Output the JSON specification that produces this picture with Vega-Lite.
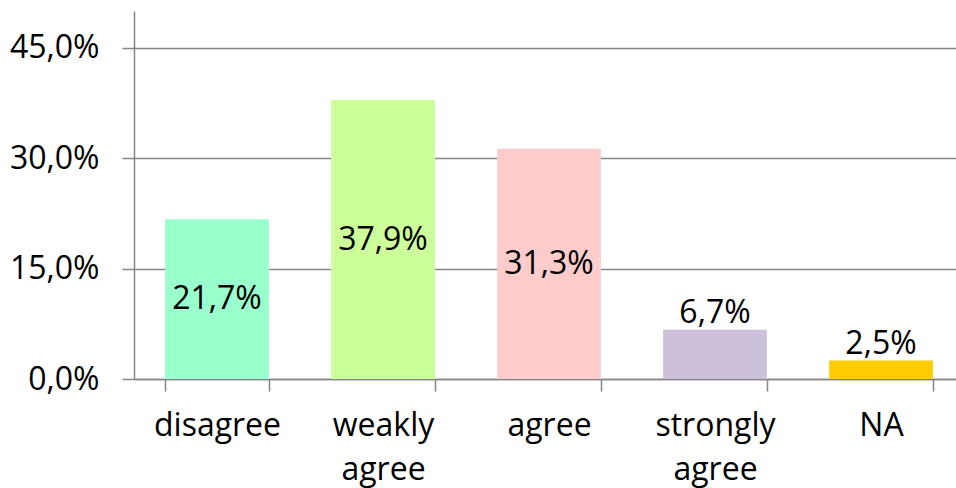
{
  "$schema": "https://vega.github.io/schema/vega-lite/v6.json",
  "autosize": {"type": "none"},
  "padding": {"left": 134, "top": 11, "right": 0, "bottom": 109},
  "width": 822,
  "height": 368,
  "background": "white",
  "config": {
    "view": {"stroke": null},
    "font": "Open Sans",
    "locale": {"number": {"decimal": ",", "thousands": ".", "grouping": [3], "currency": ["", " €"]}}
  },
  "data": {
    "values": [
      {"category": "disagree", "value": 0.217, "color": "#99FFCC"},
      {"category": "weakly agree", "value": 0.379, "color": "#CCFF99"},
      {"category": "agree", "value": 0.313, "color": "#FFCCCC"},
      {"category": "strongly agree", "value": 0.067, "color": "#CCC0DA"},
      {"category": "NA", "value": 0.025, "color": "#FFCC00"}
    ]
  },
  "encoding": {
    "x": {
      "field": "category",
      "type": "nominal",
      "sort": null,
      "scale": {"range": [0, 830], "paddingInner": 0.375, "paddingOuter": 0.1875},
      "axis": {
        "title": null,
        "labelAngle": 0,
        "labelFont": "Open Sans",
        "labelFontSize": 32,
        "labelColor": "#000000",
        "labelExpr": "split(datum.label, ' ')",
        "labelLineHeight": 44,
        "labelPadding": 19,
        "tickBand": "extent",
        "tickSize": 12,
        "tickColor": "#868686",
        "tickWidth": 1.5,
        "domainColor": "#868686",
        "domainWidth": 1.5,
        "grid": false
      }
    }
  },
  "layer": [
    {
      "mark": {"type": "bar"},
      "encoding": {
        "y": {
          "field": "value",
          "type": "quantitative",
          "scale": {"domain": [0, 0.5], "nice": false},
          "axis": {
            "title": null,
            "values": [0, 0.15, 0.3, 0.45],
            "format": ".1%",
            "labelFont": "Open Sans",
            "labelFontSize": 32,
            "labelColor": "#000000",
            "labelPadding": 23,
            "tickSize": 12,
            "tickColor": "#868686",
            "tickWidth": 1.5,
            "domainColor": "#868686",
            "domainWidth": 1.5,
            "grid": true,
            "gridColor": "#868686",
            "gridWidth": 1.5
          }
        },
        "color": {"field": "color", "type": "nominal", "scale": null}
      }
    },
    {
      "transform": [{"filter": "datum.value > 0.1"}],
      "mark": {"type": "text", "baseline": "middle", "fontSize": 32, "font": "Open Sans", "color": "#000000"},
      "encoding": {
        "y": {
          "field": "value",
          "type": "quantitative",
          "scale": {"domain": [0, 1.0], "nice": false},
          "axis": null
        },
        "text": {"field": "value", "type": "quantitative", "format": ".1%"}
      }
    },
    {
      "transform": [{"filter": "datum.value <= 0.1"}],
      "mark": {"type": "text", "baseline": "alphabetic", "dy": -7, "fontSize": 32, "font": "Open Sans", "color": "#000000"},
      "encoding": {
        "y": {
          "field": "value",
          "type": "quantitative",
          "scale": {"domain": [0, 0.5], "nice": false},
          "axis": null
        },
        "text": {"field": "value", "type": "quantitative", "format": ".1%"}
      }
    }
  ],
  "resolve": {"scale": {"y": "independent"}}
}
